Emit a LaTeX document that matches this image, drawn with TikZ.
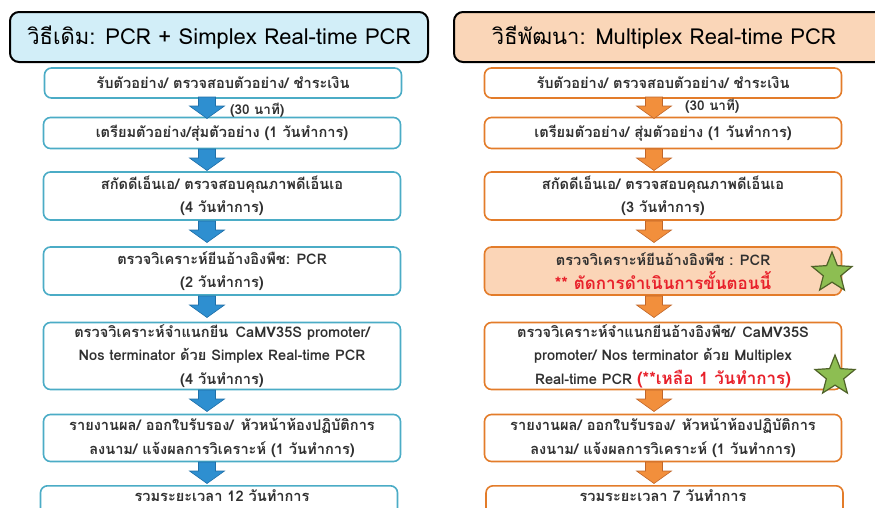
\documentclass[tikz,border=0pt]{standalone}
\usepackage{fontspec}
\newfontfamily\thai[Script=Thai]{Loma}
\usetikzlibrary{calc,shapes.geometric}
\definecolor{bluebd}{HTML}{4BACC6}
\definecolor{bluettl}{HTML}{D2EEF8}
\definecolor{bluearr}{HTML}{2E8FD0}
\definecolor{bluearrbd}{HTML}{1F6FA8}
\definecolor{orbd}{HTML}{E37C2A}
\definecolor{orttl}{HTML}{FAD6B8}
\definecolor{orarr}{HTML}{F28F3C}
\definecolor{orarrbd}{HTML}{C0662A}
\definecolor{peach}{HTML}{FBD5B7}
\definecolor{txt}{HTML}{303030}
\definecolor{redtxt}{HTML}{E8202A}
\definecolor{starfill}{HTML}{8DBE52}
\definecolor{starbd}{HTML}{4F6228}
\tikzset{
  ttl/.style={draw=black, line width=2pt, rounded corners=9pt, minimum height=50pt, inner sep=0pt, font=\thai\fontsize{22}{26}\selectfont},
  stepbox/.style={draw, line width=1.6pt, rounded corners=7pt, fill=white, inner sep=0pt, align=center, text=txt, font=\thai\bfseries\fontsize{14.6}{23.5}\selectfont},
  bbox/.style={stepbox, draw=bluebd, minimum width=357pt},
  obox/.style={stepbox, draw=orbd, minimum width=357pt},
  barr/.style={fill=bluearr, draw=bluearrbd, line width=0.6pt},
  oarr/.style={fill=orarr, draw=orarrbd, line width=0.6pt},
  lbl/.style={text=txt, font=\thai\bfseries\fontsize{13.5}{16}\selectfont, inner sep=0pt},
  gstar/.style={star, star points=5, star point ratio=2.3, minimum size=42pt, inner sep=0pt, fill=starfill, draw=starbd, line width=1.2pt}
}
\newcommand{\downarr}[2]{%
  \path[#2] ($(#1)+(-8.5,0)$) -- ++(17,0) -- ++(0,9) -- ++(9,0) -- ++(-17.5,12.5) -- ++(-17.5,-12.5) -- ++(9,0) -- cycle;}
\begin{document}
\begin{tikzpicture}[x=1pt,y=-1pt]
\useasboundingbox (0,0) rectangle (875,507);
\clip (0,0) rectangle (875,507);
% titles
\node[ttl, fill=bluettl, minimum width=418pt] (lt) at (219,37) {วิธีเดิม: PCR + Simplex Real-time PCR};
\node[ttl, fill=orttl, minimum width=430pt, anchor=west] (rt) at (453,37) {};
\node[font=\thai\fontsize{22}{26}\selectfont, inner sep=0pt] (rtt) at (664,37) {วิธีพัฒนา: Multiplex Real-time PCR};
% left column
\node[bbox, minimum height=30pt] (l1) at (223,83) {รับตัวอย่าง/ ตรวจสอบตัวอย่าง/ ชำระเงิน};
\node[bbox, minimum height=31pt] (l2) at (222,133) {เตรียมตัวอย่าง/สุ่มตัวอย่าง (1 วันทำการ)};
\node[bbox, minimum height=48pt] (l3) at (222,196) {สกัดดีเอ็นเอ/ ตรวจสอบคุณภาพดีเอ็นเอ\\(4 วันทำการ)};
\node[bbox, minimum height=48pt] (l4) at (222,271) {ตรวจวิเคราะห์ยีนอ้างอิงพืช: PCR\\(2 วันทำการ)};
\node[bbox, minimum height=67pt] (l5) at (222,356) {ตรวจวิเคราะห์จำแนกยีน\enspace CaMV35S promoter/\\Nos terminator ด้วย Simplex Real-time PCR\\(4 วันทำการ)};
\node[bbox, minimum height=47pt] (l6) at (222,438) {รายงานผล/ ออกใบรับรอง/\enspace หัวหน้าห้องปฏิบัติการ\\ลงนาม/ แจ้งผลการวิเคราะห์ (1 วันทำการ)};
\node[bbox, minimum height=50pt, anchor=north] (l7) at (219,485) {};
\node[lbl, font=\thai\bfseries\fontsize{14.6}{16}\selectfont] (l7t) at (222,496) {รวมระยะเวลา 12 วันทำการ};
\node[lbl, anchor=west] (l1t) at (230,110) {(30 นาที)};
% right column
\node[obox, minimum height=30pt] (r1) at (663,83) {รับตัวอย่าง/ ตรวจสอบตัวอย่าง/ ชำระเงิน};
\node[obox, minimum height=31pt] (r2) at (663,133) {เตรียมตัวอย่าง/ สุ่มตัวอย่าง (1 วันทำการ)};
\node[obox, minimum height=48pt] (r3) at (663,196) {สกัดดีเอ็นเอ/ ตรวจสอบคุณภาพดีเอ็นเอ\\(3 วันทำการ)};
\node[obox, fill=peach, minimum height=48pt] (r4) at (663,271) {ตรวจวิเคราะห์ยีนอ้างอิงพืช : PCR\\{\color{redtxt}\fontsize{17}{23.5}\selectfont ** ตัดการดำเนินการขั้นตอนนี้}};
\node[obox, minimum height=67pt] (r5) at (663,356) {ตรวจวิเคราะห์จำแนกยีนอ้างอิงพืช/\enspace CaMV35S\\promoter/ Nos terminator ด้วย Multiplex\\Real-time PCR {\color{redtxt}\fontsize{17}{23.5}\selectfont (**เหลือ 1 วันทำการ)}};
\node[obox, minimum height=47pt] (r6) at (663,438) {รายงานผล/ ออกใบรับรอง/\enspace หัวหน้าห้องปฏิบัติการ\\ลงนาม/ แจ้งผลการวิเคราะห์ (1 วันทำการ)};
\node[obox, minimum height=50pt, anchor=north] (r7) at (664.5,485) {};
\node[lbl, font=\thai\bfseries\fontsize{14.6}{16}\selectfont] (r7t) at (663,496) {รวมระยะเวลา 7 วันทำการ};
\node[lbl, anchor=west] (r1t) at (685,106) {(30 นาที)};
% stars
\node[gstar] (s1) at (832,273) {};
\node[gstar] (s2) at (835,376) {};
% arrows
\coordinate (la1) at (207,97);
\coordinate (la2) at (207,149);
\coordinate (la3) at (207,221);
\coordinate (la4) at (207,296);
\coordinate (la5) at (207,390);
\coordinate (la6) at (207,462);
\coordinate (ra1) at (654,97);
\coordinate (ra2) at (654,149);
\coordinate (ra3) at (654,221);
\coordinate (ra4) at (654,296);
\coordinate (ra5) at (654,390);
\coordinate (ra6) at (654,462);
\foreach \c in {la1,la2,la3,la4,la5,la6}{\downarr{\c}{barr}}
\foreach \c in {ra1,ra2,ra3,ra4,ra5,ra6}{\downarr{\c}{oarr}}
\end{tikzpicture}
\end{document}
